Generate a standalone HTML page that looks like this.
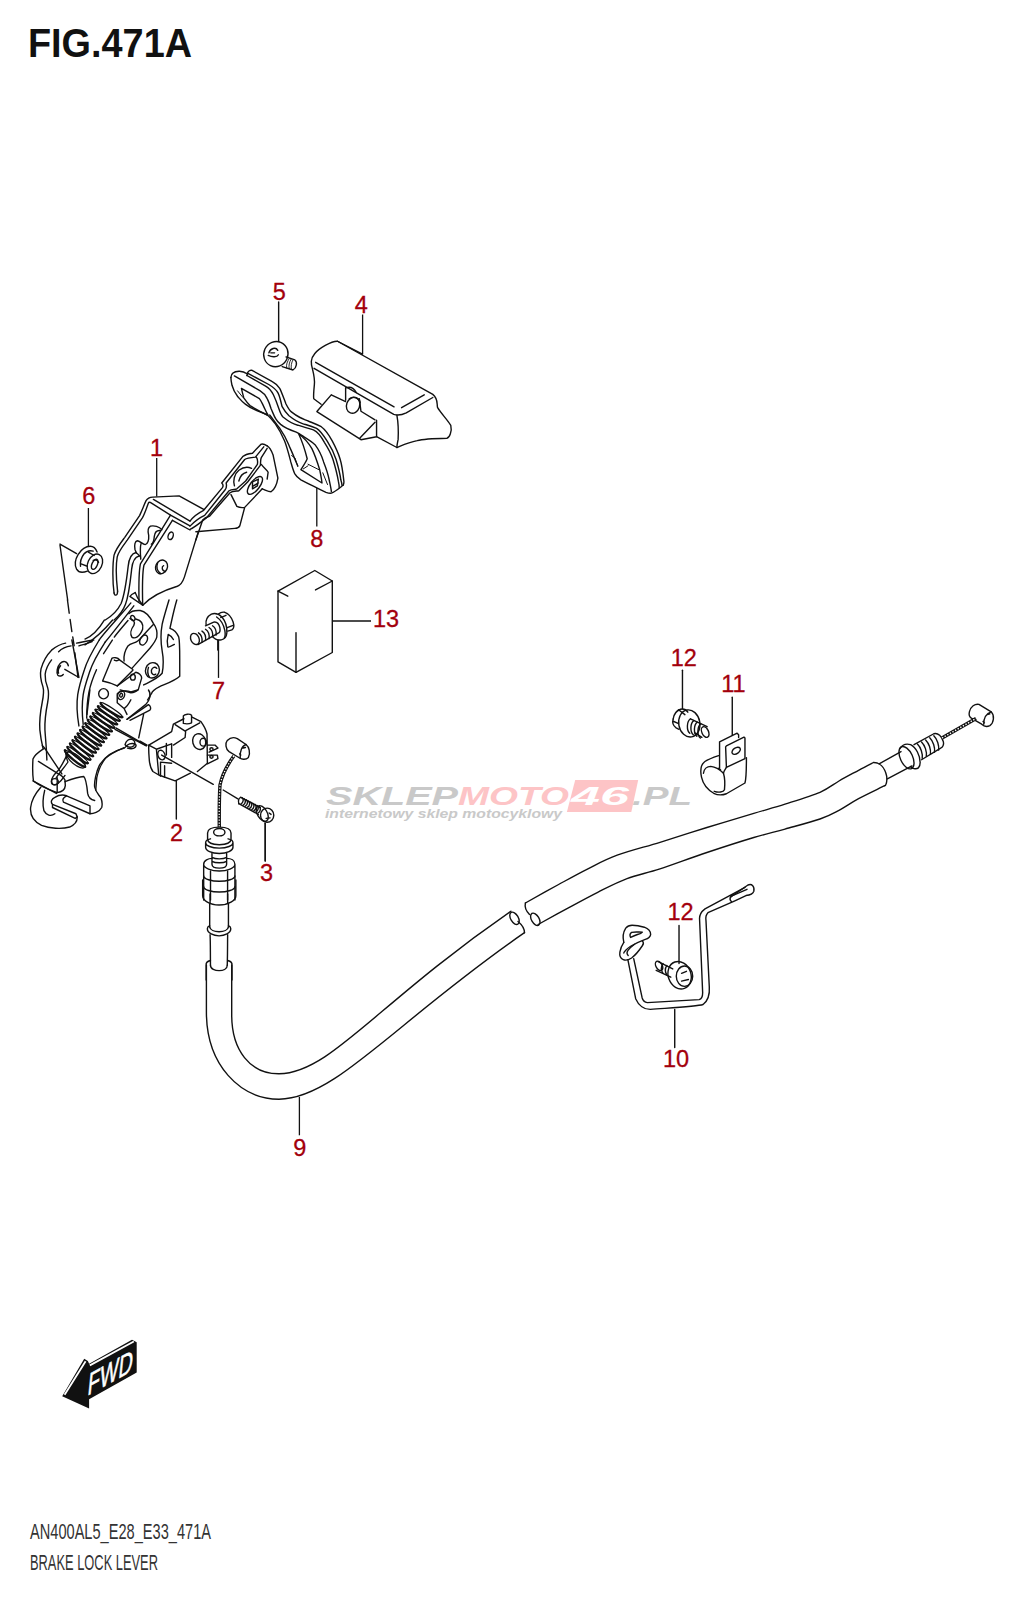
<!DOCTYPE html>
<html><head><meta charset="utf-8"><title>FIG.471A</title>
<style>
html,body{margin:0;padding:0;background:#fff;width:1024px;height:1600px;overflow:hidden}
svg{display:block}
.l path,.l ellipse,.l circle,.l polyline{fill:none;stroke:#111;stroke-width:1.4;stroke-linejoin:round;stroke-linecap:round;vector-effect:non-scaling-stroke}
.t path,.t ellipse,.t circle{fill:none;stroke:#111;stroke-width:1.0;stroke-linejoin:round;stroke-linecap:round;vector-effect:non-scaling-stroke}
.t{fill:none;stroke:#111;stroke-width:1.1;stroke-linejoin:round;stroke-linecap:round}
.ld{fill:none;stroke:#111;stroke-width:1.3}
.n{font-family:"Liberation Sans",sans-serif;font-size:23.5px;fill:#a3000c;stroke:#a3000c;stroke-width:0.3;text-anchor:middle}
</style></head>
<body>
<svg width="1024" height="1600" viewBox="0 0 1024 1600">
<rect width="1024" height="1600" fill="#fff"/>
<!-- title -->
<text x="28" y="57" font-family="Liberation Sans" font-weight="bold" font-size="40" fill="#111" textLength="164" lengthAdjust="spacingAndGlyphs">FIG.471A</text>

<!-- watermark -->
<g id="wm" font-family="Liberation Sans" font-weight="bold" font-style="italic">
<text x="326" y="805" font-size="25" fill="#c9c9c9" textLength="132" lengthAdjust="spacingAndGlyphs">SKLEP</text>
<text x="458" y="805" font-size="25" fill="#fdc4c6" textLength="111" lengthAdjust="spacingAndGlyphs">MOTO</text>
<path d="M575.2 780.1H638.2L631.3 812H566.9Z" fill="#fdc4c6"/>
<text x="571" y="805" font-size="25" fill="#fff" textLength="58" lengthAdjust="spacingAndGlyphs">46</text>
<text x="632" y="805" font-size="25" fill="#c9c9c9" textLength="60" lengthAdjust="spacingAndGlyphs">.PL</text>
<text x="325" y="818.2" font-size="12.3" fill="#c9c9c9" textLength="237" lengthAdjust="spacingAndGlyphs">internetowy sklep motocyklowy</text>
</g>

<!-- part 4 -->
<g class="l" transform="translate(300 330) scale(0.15625)">
<path d="M400 155L240 72C200 70 120 120 95 150C65 185 70 215 80 250C90 290 95 320 92 350C88 390 85 420 88 440L135 475"/>
<path d="M240 72L850 412C885 440 875 470 880 495C900 530 940 570 965 610C975 650 955 690 940 693C850 695 780 700 750 708C690 720 650 740 620 752L490 683"/>
<path d="M90 245L600 540C625 548 650 545 680 530L850 432"/>
<path d="M100 207L602 492M650 497L795 415"/>
<path d="M620 545C630 600 630 660 628 700C625 720 620 735 620 752"/>
<path d="M200 415L292 458M200 415L108 522L390 702L490 683M385 690L480 590M490 578V683"/>
<path d="M292 370V450M292 370C320 360 345 370 360 400M380 440L390 520L480 575"/>
<ellipse cx="340" cy="482" rx="42" ry="52" transform="rotate(20 340 482)"/>
<path d="M315 440C345 420 380 435 385 465"/>
</g>
<!-- part 5 -->
<g class="l" transform="translate(220 330) scale(0.12695)">
<path d="M462 -220V90"/>
<ellipse cx="440" cy="190" rx="95" ry="100" transform="rotate(25 440 190)"/>
<path d="M520 212L590 236C610 250 605 300 575 315L490 288"/>
<path d="M385 180C395 145 440 130 455 160M380 200C410 215 450 215 460 195M400 180L430 180" class="t"/>
<path d="M545 225C530 250 520 270 525 300M560 230C545 255 540 280 545 305M575 235C562 258 558 282 562 310" style="stroke-width:0.9"/>
</g>
<!-- part 8 -->
<g class="l">
<path d="M230.9 377.5C231 374 234 371.5 239 371.3C242 371.2 245 372.3 247.5 374M234.4 375.9L260.2 390.8C264 393 266 396 267.2 398.6C269 402 270 405 271.1 408.75C273 413 274 416 275.8 418.9C277 421 279 423 280.6 424.4C285 428 290 430 296.25 432.2C299 433.5 301 435 304 436.9C309 440 312 442 315 444.7C319 450 321.5 455 323.6 461.9C326 468 328 474 329 479C330 484 331 488 331.4 491.6"/>
<path d="M230.9 377.5C231 381 231.5 383 232 385.3C233 389 235 393 237.5 396.25C240 399 242 402 245.3 404.1C249 407 252 408.5 256.25 410.3C260 412 264 413 267.2 415C270 417 273 421 275.2 423.6C279 429 282 435 284.5 440.8C287 447 289 455 290.8 461.9C292 466 293 470 294.7 473.6C296 476 298 478 300.9 479.8C305 482 309 484 313.4 486.1C317 488 321 490 326 492.3C328 493 330 493.5 331.4 493.1C335 492 339 488.5 343.1 485.3"/>
<path d="M269.7 415C273 419 276 424 279.8 428.3C283 433 286 438 288.4 443.9C290 448 292.5 453 294.7 458.75C296 462 297 464 297.8 465.8"/>
<path d="M246.9 375.5L265.6 386.1C269 388 271 390 273.4 394.7C275 398 277 403 278.9 408.75C280 412 282 416 283 417C288 421 292 424 297.8 425.2C303 427 308 428 313.4 429.8C318 432 321 436 324.4 442.3C328 448 331 453 333 459.5C335 466 337 473 338.4 481.4C339 484 339.2 486 339.2 487.7"/>
<path d="M248.4 373.6L268.75 384.5C273 387 276 389 278.1 393.1C280 397 281 402 282 406.4C284 410 286 413 289 415.8C293 419 297 422 302.5 423.6C307 425 311 426 316.6 428.3C321 431 324 436 327.5 441.6C331 447 334 453 336.1 459.5C338 466 340 473 340.8 479.8C341.5 482 342 484 342 485.3"/>
<path d="M247 373.5C248 371.5 249.5 370.2 251.6 370.1L271.9 381.4C275 383 278 386 279.7 388.4C282 393 284 399 286 404C287.5 407 289 410 291.4 411.9C294 414 297 416 300 417.5C303 419 306 420 308.75 421.25C313 423 317 424.5 321.25 426.7C326 430 329 435 332.2 440.8C335 446 338 452 340 458.75C342 465 343 473 343.9 481.4C344 483 343.5 484.5 343.1 485.3"/>
<path d="M247.5 374L246.9 375.5"/>
<path d="M241.4 388.4L259.4 398.6C261 400.5 262 403 263.3 405.6C265 409 266 412 268 415M241.4 388.4C242 391 243 395 243.75 397.8C246 401 248 403.5 250 405.6C255 409 261 412 267.2 415"/>
<path d="M298.6 433.75C302 441 305 450 307.2 458.75C306 462 303 466 300.9 469.7L322 483C321.5 478 320.5 474 319.7 469.7C317 461 314.5 454 311.9 448.6C308 442 303 437 298.6 433.75Z"/>
<path d="M308 464.2L318.9 469.7M303.3 468.9L308 465.8M291.6 455.6L295 458L297.8 466.6M322.8 472.8L327.5 484.5M237.5 390.8L243 397.5" class="t" style="stroke-width:1"/>
</g>
<!-- part 1 upper -->
<g class="l" transform="translate(100 440) scale(0.17578)">
<path d="M80 870C70 800 72 700 80 655C90 620 110 595 140 555L225 430C240 400 250 370 262 345C270 332 282 326 300 325L450 318L590 395"/>
<path d="M100 860C92 790 92 700 98 665C105 635 125 610 155 570L240 445C255 420 265 385 275 360C278 352 282 354 286 355L401 427L512 488"/>
<path d="M304 338L512 461M412 457L512 512"/>




<path d="M80 870C82 888 100 888 100 860"/>
<path d="M401 427L230 705C222 740 220 820 222 920M412 457L250 712C243 745 240 830 243 940"/>
<path d="M560 520L480 780C470 810 460 825 440 832C380 850 300 880 243 940L170 890C175 880 185 875 200 868"/>
<path d="M200 868L215 900M215 900L243 940"/>
<ellipse cx="402" cy="545" rx="14" ry="22" transform="rotate(20 402 545)"/>
<ellipse cx="350" cy="722" rx="33" ry="40" transform="rotate(25 350 722)"/>
<path d="M362 715C350 720 350 745 372 748M328 698C320 720 325 745 345 760" class="t"/>
<path d="M352 510C337 492 307 485 287 490C272 498 272 523 277 543C279 568 272 593 257 595C242 595 227 573 212 573C199 575 194 598 199 623L207 643"/>
<path d="M344 515C327 513 312 523 309 548C307 573 302 588 292 593M234 588C227 608 229 643 232 678"/>
<path d="M205 640C180 645 165 670 160 720C152 790 140 880 120 930C100 970 70 1000 30 1024M222 660C200 665 185 690 180 735C173 800 165 880 145 935C130 975 110 1000 80 1024"/>
<path d="M205 640C215 648 222 655 230 665"/>




</g>
<g class="l" transform="translate(190 440) scale(0.097656)">
<path d="M0 830C30 790 80 750 140 720L330 490C345 470 335 450 325 440L540 170C560 150 600 140 640 135L725 45C740 35 760 40 790 60"/>
<path d="M0 882C40 840 100 795 150 772L360 510C375 490 375 460 370 440L560 200C580 185 620 180 670 175L755 70"/>
<path d="M0 915C40 900 90 860 170 795L400 520C430 500 460 510 480 500L570 420L690 250C695 220 690 190 680 175"/>
<path d="M60 1024L130 820C160 790 190 785 200 780L410 540C440 520 480 525 500 520L590 430L720 260C725 230 720 200 730 180L790 85"/>
<path d="M790 60C810 70 830 100 850 150L900 390C890 450 860 510 830 530C800 530 770 510 740 500"/>
<path d="M730 250C760 290 790 310 800 330L790 400"/>
<path d="M420 560L480 680C500 690 530 695 560 690L510 880C500 900 480 905 460 905L60 940M560 690L740 500"/>
<path d="M455 470C440 420 450 350 500 310C540 280 590 270 630 290M500 420C510 380 540 340 580 330"/>
<ellipse cx="665" cy="465" rx="48" ry="110" transform="rotate(38 665 465)"/>
<path d="M640 430L700 400L690 470L640 500ZM650 470L700 440" class="t"/>
</g>
<!-- part 1 lower -->
<g class="l" transform="translate(25 640) scale(0.078125)">
<path d="M520 40C460 50 400 80 340 130C280 190 230 280 205 370C190 440 195 500 230 600C245 650 240 700 220 800C200 900 180 1000 190 1150C200 1250 215 1320 230 1385"/>
<path d="M590 75C520 85 470 110 430 150M340 255C290 320 265 380 258 440C255 500 270 560 290 610C305 660 305 720 290 800C270 900 250 1000 255 1150C260 1250 275 1350 280 1536"/>
<path d="M555 330C540 270 490 260 450 300C410 340 400 420 420 450C440 470 480 460 490 440M455 330C430 360 420 400 430 425"/>
<path d="M600 0L690 480L510 375"/>
<path d="M950 0C870 130 800 250 760 380C720 500 690 600 675 700C660 800 665 950 690 1100"/>
<path d="M1024 30C940 160 870 280 830 400C790 520 760 600 745 700C730 800 730 950 745 1080"/>
<path d="M915 380C870 480 840 560 820 660C800 760 790 850 790 1000"/>
<path d="M660 40C700 30 760 20 880 0M690 75C740 60 800 40 860 20"/>
</g>
<g class="l" transform="translate(20 600) scale(0.17578)">
<path d="M270 0L280 75M285 110L295 180M300 210L308 260M312 300L330 440" />
</g>
<g class="l" transform="translate(85 600) scale(0.097656)">
<path d="M198 205C140 300 70 370 0 400"/>
<path d="M283 205C220 280 130 380 0 460"/>
<path d="M470 30C380 140 200 330 145 410"/>
<path d="M500 60C430 150 290 330 205 433"/>
<path d="M440 210C380 280 320 350 300 380M280 410L190 550"/>
<path d="M450 140C470 115 520 105 565 108C610 115 660 160 700 240C730 280 745 320 735 380C725 420 700 450 660 500L480 700"/>
<path d="M400 625C395 580 400 530 440 470C470 440 510 445 540 420C570 400 600 350 700 250"/>
<path d="M460 190C490 200 520 220 500 260C470 300 460 350 480 380C510 400 560 380 590 300C600 250 580 210 520 195"/>
<ellipse cx="490" cy="185" rx="20" ry="28" transform="rotate(-30 490 185)"/>
<ellipse cx="600" cy="410" rx="35" ry="55" transform="rotate(30 600 410)"/>
<path d="M860 0C830 100 800 200 790 250C775 330 770 400 790 520C805 600 800 700 790 750C750 800 680 830 600 870"/>
<path d="M940 0C910 100 890 200 870 290C900 300 940 330 960 380C970 420 970 500 970 600V780C930 820 850 850 760 890C720 910 690 930 680 960L640 1024"/>
<path d="M915 455C880 475 855 490 848 480C840 440 840 400 852 352C875 362 895 385 905 405"/>
<ellipse cx="690" cy="720" rx="70" ry="80" transform="rotate(20 690 720)"/>
<path d="M735 700C720 680 690 685 680 720C675 750 700 775 725 760M650 690C640 720 640 760 660 790" class="t"/>
<path d="M275 598C290 585 340 590 350 610L490 712M275 598L180 830C230 840 290 860 330 880L490 720"/>
<path d="M330 880L520 740C550 745 580 770 580 800L545 920C525 940 495 950 470 950L360 920"/>
<path d="M350 610C340 620 320 625 300 615"/>
<ellipse cx="490" cy="790" rx="25" ry="30"/>
<ellipse cx="190" cy="960" rx="50" ry="52"/>
<ellipse cx="370" cy="975" rx="35" ry="45" transform="rotate(20 370 975)"/>
<ellipse cx="370" cy="975" rx="14" ry="20" transform="rotate(20 370 975)"/>
</g>
<g class="l" transform="translate(85 690) scale(0.097656)">
<path d="M430 300L650 150C670 160 680 190 665 205L460 310"/>
<path d="M600 250L550 490"/>
<path d="M320 390L630 570"/>
<path d="M410 560C420 520 450 500 480 505C510 515 520 540 500 570C480 590 440 595 410 560"/>
<path d="M400 590C330 620 260 650 210 700C160 760 130 850 120 900L110 1024"/>
<path d="M50 0L20 250"/>
<path d="M330 40C350 10 420 0 470 20L540 0M330 40V130L400 190C430 170 460 120 470 100M400 190L430 250"/>
<path d="M520 740C600 680 680 620 700 0" style="display:none"/>
<path d="M650 0C680 40 670 100 620 150L430 300"/>
</g>
<!-- spring -->
<g class="l"><path d="M64.9 750.3C63.3 752.4 83.5 768.8 85.1 766.7 M67.4 746.9C65.9 749.0 86.2 765.2 87.8 763.1 M70.0 743.5C68.4 745.6 88.9 761.7 90.4 759.6 M72.5 740.2C71.0 742.2 91.5 758.1 93.1 756.1 M75.1 736.8C73.5 738.8 94.2 754.6 95.8 752.5 M77.6 733.4C76.1 735.5 96.9 751.1 98.4 749.0 M80.2 730.0C78.6 732.1 99.5 747.5 101.1 745.4 M82.7 726.6C81.2 728.7 102.2 744.0 103.8 741.9 M85.3 723.2C83.7 725.3 104.9 740.4 106.4 738.3 M87.8 719.8C86.3 721.9 107.5 736.9 109.1 734.8 M90.4 716.5C88.8 718.5 110.2 733.3 111.8 731.3 M92.9 713.1C91.4 715.1 112.9 729.8 114.4 727.7 M95.5 709.7C93.9 711.8 115.5 726.2 117.1 724.2 M98.0 706.3C96.5 708.4 118.2 722.7 119.7 720.6 M100.6 702.9C99.0 705.0 120.8 719.2 122.4 717.1" style="stroke-width:2.4"/><path d="M64.9 750.3C66.5 748.2 86.7 764.6 85.1 766.7 M67.4 746.9C69.0 744.9 89.3 761.1 87.8 763.1 M70.0 743.5C71.6 741.5 92.0 757.5 90.4 759.6 M72.5 740.2C74.1 738.1 94.7 754.0 93.1 756.1 M75.1 736.8C76.6 734.7 97.3 750.4 95.8 752.5 M77.6 733.4C79.2 731.3 100.0 746.9 98.4 749.0 M80.2 730.0C81.7 727.9 102.7 743.4 101.1 745.4 M82.7 726.6C84.3 724.5 105.3 739.8 103.8 741.9 M85.3 723.2C86.8 721.1 108.0 736.3 106.4 738.3 M87.8 719.8C89.4 717.8 110.7 732.7 109.1 734.8 M90.4 716.5C91.9 714.4 113.3 729.2 111.8 731.3 M92.9 713.1C94.5 711.0 116.0 725.6 114.4 727.7 M95.5 709.7C97.1 707.6 118.6 722.1 117.1 724.2 M98.0 706.3C99.6 704.2 121.3 718.5 119.7 720.6 M100.6 702.9C102.2 700.8 124.0 715.0 122.4 717.1" style="stroke-width:1.3"/><ellipse cx="76.0" cy="760.0" rx="11.5" ry="4.5" transform="rotate(39 76.0 760.0)" style="stroke-width:1.2"/><path d="M65.5 752C66 756 67 760 68 762C64 768 60 772 56 778" style="stroke-width:1.3"/></g>
<!-- bottom hook -->
<g class="l" transform="translate(15 720) scale(0.15625)">
<path d="M175 165C182 170 186 175 190 180C160 200 130 215 115 250C112 300 112 350 118 390C150 415 200 440 270 465C300 460 320 445 322 420L320 385C310 365 290 350 270 340L150 265M190 180L300 345"/>
<path d="M115 390L265 470M270 370V465"/>
<path d="M165 430C130 470 105 510 100 560C95 610 120 650 170 675C220 695 300 700 350 685C385 670 400 650 398 620L390 600L240 540C225 525 235 505 255 495C280 480 310 478 330 485L480 550V600C500 600 540 590 555 560C560 540 558 520 550 500C540 480 520 470 510 430C505 400 520 330 540 290C570 240 620 200 700 180L720 160C740 145 770 150 775 160C775 180 750 190 720 180"/>
<path d="M190 450C180 490 175 540 185 580C200 610 230 620 255 600"/>
<path d="M240 540L240 560L385 630L398 620M330 485C310 495 300 510 310 525L480 600"/>
<path d="M320 395C360 380 400 365 440 362C455 375 460 420 465 470C470 500 485 510 510 515"/>
<path d="M330 230C310 270 290 310 270 330C240 360 225 390 240 410C260 425 290 400 320 355"/>
<ellipse cx="255" cy="395" rx="22" ry="20"/>
<path d="M640 60L840 165"/>
</g>
<!-- nut 6 -->
<g class="l" transform="translate(60 535) scale(0.048828)">
<path d="M0 185L340 380M0 210L157 1331"/>
<path d="M760 350C730 270 680 230 620 230C540 230 440 290 370 400C310 500 300 620 340 700C380 770 460 780 560 740"/>
<path d="M420 640C410 560 430 470 490 390C540 330 610 310 680 330"/>
<path d="M580 350L700 420M430 590L560 640"/>
<ellipse cx="715" cy="590" rx="145" ry="210" transform="rotate(25 715 590)"/>
<ellipse cx="710" cy="600" rx="55" ry="110" transform="rotate(25 710 600)"/>
<path d="M680 520C720 500 770 520 790 560" class="t"/>
</g>
<!-- bolt 7 -->
<g class="l" transform="translate(185 600) scale(0.058582)">
<path d="M570 240C600 215 640 200 680 210C740 230 790 290 820 370C840 430 830 490 800 510L730 530"/>
<path d="M610 300L700 262M720 470L822 432"/>
<path d="M360 420C350 350 380 280 450 240C520 215 580 240 630 290C690 360 720 450 715 560C710 620 680 670 620 680C560 690 500 660 470 620"/>
<path d="M540 290C600 330 660 420 680 520C690 580 690 620 670 650" class="t"/>
<path d="M350 440L490 378C540 370 580 410 595 470C605 520 590 560 560 570L220 760"/>
<ellipse cx="170" cy="665" rx="70" ry="100" transform="rotate(-25 170 665)"/>
<path d="M230 560C275 590 300 650 290 720M290 530C335 560 360 620 350 690M350 500C395 530 420 590 410 660M410 470C455 500 480 560 470 630M470 440C515 470 540 530 530 600"/>
<path d="M560 680V853"/>
</g>
<!-- box 13 -->
<g class="l">
<path d="M278 591.1L314.8 570.5L332.3 581V652.5L296 672.4L278 661.9Z"/>
<path d="M278 591.1L287.8 596.2M332.3 581L315.5 589.9M296 632.6V672.4"/>
</g>
<!-- part 2 switch -->
<g class="l" transform="translate(140 700) scale(0.117188)">
<path d="M0 350L60 385"/>
<path d="M75 385L270 270L285 205L375 160M440 145L520 185C545 220 565 260 572 290L575 540L490 610"/>
<path d="M370 200V135C380 120 425 115 440 130V195C420 205 390 205 370 200Z"/>
<path d="M300 210L385 265M510 195L390 262L385 320L285 385"/>
<path d="M75 385L140 420L270 375M140 420L160 640M75 385C72 440 78 490 80 520C85 560 95 590 110 610L160 640L300 690L430 625"/>
<path d="M225 370V470M270 375V490M175 530L270 540M175 530V650M210 560V660"/>
<ellipse cx="505" cy="355" rx="55" ry="68" transform="rotate(-15 505 355)"/>
<ellipse cx="540" cy="360" rx="28" ry="34"/>
<path d="M575 385L640 385L665 410L590 445M575 470L660 470L665 500L575 545"/>
<ellipse cx="610" cy="420" rx="14" ry="12"/><ellipse cx="610" cy="485" rx="14" ry="12"/>
<ellipse cx="183" cy="470" rx="30" ry="42" transform="rotate(-20 183 470)"/>
<path d="M185 470L625 720"/>
<path d="M310 690V1015"/>
<path d="M745 345C770 320 800 315 830 330L905 380C930 400 945 450 925 490C905 510 870 510 850 495L760 440C730 420 725 370 745 345Z"/>
<path d="M905 380C870 390 850 440 855 495M880 410L900 405M850 460L860 470" class="t"/>
</g>
<g>
<path d="M233.8 756C228 764 222 775 220 785C219 800 219.2 815 219.3 827" fill="none" stroke="#111" stroke-width="3.4"/>
<path d="M233.8 756C228 764 222 775 220 785C219 800 219.2 815 219.3 827" fill="none" stroke="#fff" stroke-width="1.3" stroke-dasharray="1.3 1.6"/>
</g>
<!-- screw 3 + fitting -->
<g class="l" transform="translate(190 790) scale(0.097656)">
<path d="M340 0L490 90"/>
<path d="M520 75L720 180M500 140L700 250"/>
<path d="M520 75C500 80 490 110 500 140"/>
<path d="M533 78C553 95 545 130 523 142M555 90C575 106 567 142 545 154M577 101C597 118 589 153 567 165M599 112C619 130 611 164 589 176M621 124C641 141 633 176 611 188M643 136C663 152 655 188 633 200M665 147C685 164 677 199 655 211M687 158C707 176 699 210 677 222M709 170C729 187 721 222 699 234" class="t"/>
<ellipse cx="740" cy="240" rx="50" ry="88" transform="rotate(-30 740 240)"/>
<ellipse cx="790" cy="258" rx="68" ry="72"/>
<path d="M810 235L830 250M780 290L820 285" class="t"/>
<path d="M770 340V730"/>
<ellipse cx="300" cy="432" rx="58" ry="38"/>
<path d="M180 440C180 400 230 380 300 380C370 380 420 400 420 440V500C420 540 370 560 300 560C230 560 180 540 180 500Z"/>
<path d="M160 540C160 520 180 505 210 500M440 540C440 520 420 505 390 500M160 540V585C160 620 220 650 300 650C380 650 440 620 440 585V540C440 570 380 595 300 595C220 595 160 570 160 540"/>
<path d="M225 650V760C225 790 260 800 300 800C340 800 375 790 375 760V650M225 690C260 710 340 710 375 690M225 730C260 750 340 750 375 730"/>
<path d="M140 760C140 720 190 700 225 700M375 700C420 700 460 720 460 760V1126M140 760V1126M140 760C140 800 220 830 300 830C380 830 460 800 460 760"/>
<path d="M140 880C140 910 220 935 300 935C380 935 460 910 460 880M140 990C140 1020 220 1045 300 1045C380 1045 460 1020 460 990"/>
<path d="M210 830V1126M385 830V1126"/>
</g>
<!-- cable tube bottom -->
<g class="l" transform="translate(180 880) scale(0.078125)">
<path d="M290 200C290 260 380 320 500 320C620 320 715 260 715 200V0M290 200V0"/>
<path d="M385 180V300M610 180V300"/>
<path d="M380 300V600M620 300V600"/>
<path d="M380 585C360 592 350 605 350 625C350 680 430 715 500 715C570 715 650 680 650 625C650 605 640 592 620 585M380 600C385 640 440 662 500 662C560 662 615 640 620 600"/>
<path d="M385 700C390 800 388 900 390 1090M610 700C608 800 610 900 605 1090"/>
<path d="M390 1090C390 1140 450 1160 500 1160C550 1160 605 1140 605 1090"/>
<path d="M390 1030C350 1040 330 1060 335 1090V1280M610 1030C650 1040 670 1060 665 1090V1280"/>
</g>
<!-- cable casing -->
<g class="l">
<path d="M206.4 965V1012C206.4 1065 240 1099 279 1099.2C335 1099 395 1022 524.5 932.7"/>
<path d="M231.7 965V1015C231.7 1050 250 1074 279 1073.8C330 1073 375 1005 510.9 911.25"/>

<ellipse cx="514.5" cy="918.3" rx="3.8" ry="6.8" transform="rotate(-30 514.5 918.3)"/>
<path d="M518 921.5C521 924 524.5 926.5 524.5 932.7"/>
<path d="M525.4 903C524.5 907 526 911 529.5 914.5"/>
<ellipse cx="535.3" cy="919.3" rx="3.8" ry="6.8" transform="rotate(-30 535.3 919.3)"/>
<path d="M525.4 903.0 C530.9 899.9 548.2 890.2 558.6 884.5 C569.0 878.8 578.1 873.7 587.9 868.8 C597.7 863.9 605.2 859.6 617.2 855.2 C629.2 850.8 645.0 846.9 660.0 842.3 C675.0 837.7 691.3 832.3 706.9 827.5 C722.5 822.7 740.7 817.3 753.8 813.4 C766.8 809.5 774.0 807.6 785.0 804.1 C796.0 800.6 811.0 796.1 820.0 792.3 C829.0 788.4 832.6 784.7 839.0 781.0 C845.4 777.3 852.9 773.4 858.6 770.3 C864.4 767.2 871.0 763.8 873.5 762.5"/>
<path d="M538.1 924.5 C543.1 921.7 558.5 913.3 568.4 907.9 C578.3 902.5 587.9 897.2 597.7 892.3 C607.5 887.4 616.6 882.5 627.0 878.6 C637.4 874.7 646.7 873.2 660.0 868.9 C673.3 864.5 691.3 857.7 706.9 852.5 C722.5 847.3 740.7 841.4 753.8 837.5 C766.8 833.6 774.0 832.2 785.0 829.1 C796.0 826.0 811.0 822.1 820.0 819.0 C829.0 815.9 832.6 813.7 839.0 810.3 C845.4 806.9 851.0 802.7 858.6 798.6 C866.2 794.5 880.3 787.9 884.6 785.7"/>
</g>
<!-- cable end -->
<g class="l" transform="translate(860 690) scale(0.136719)">
<path d="M100 530C140 530 180 560 195 630C200 670 190 700 180 700"/>
<path d="M140 540L300 450M200 650L380 555"/>
<path d="M290 430C310 400 340 390 370 400C410 420 440 480 440 530C440 570 420 580 395 575C375 570 370 560 370 560"/>
<ellipse cx="340" cy="495" rx="45" ry="88" transform="rotate(-25 340 495)"/>
<path d="M395 400L540 320C570 310 600 340 610 380C615 400 605 420 590 425L450 510"/>
<path d="M420 395C445 420 460 465 455 500M450 380C475 405 490 450 485 485M480 365C505 390 520 435 515 470M510 350C535 375 550 420 545 455M540 335C565 360 580 405 575 440" class="t"/>


<path d="M800 160C810 120 840 100 870 105L960 160C985 185 980 240 950 260C930 270 905 265 890 250L820 210C800 200 795 180 800 160Z"/>
<path d="M960 160C930 170 905 200 905 250M930 180L950 175M900 230L910 240" class="t"/>
</g>
<!-- bolt 12 top + clamp 11 -->
<g class="l" transform="translate(660 700) scale(0.097656)">
<path d="M135 195C140 150 170 110 210 95C240 88 265 95 285 125"/>
<path d="M135 195C125 230 135 265 165 285L195 300M190 100L255 150M130 215L185 240"/>
<ellipse cx="300" cy="240" rx="108" ry="140" transform="rotate(-10 300 240)"/>
<path d="M312 193L483 273M357 337L429 382"/><ellipse cx="463" cy="328" rx="34" ry="58" transform="rotate(-25 463 328)"/>
<path d="M310 195C273 220 270 310 305 340M346 211C309 236 306 326 341 356M382 227C345 252 342 342 377 372M418 244C381 269 378 359 413 389"/>
<path d="M230 -305V90"/>
<path d="M740 -28V360"/>
<path d="M610 430L790 340L805 355V385M610 430V700"/>
<path d="M680 470L860 380L870 390V600L680 690L672 480Z"/>
<ellipse cx="780" cy="520" rx="48" ry="30" transform="rotate(-35 780 520)"/>
<path d="M600 570C540 590 490 610 460 630C420 660 410 720 425 790C440 860 490 920 550 955C590 975 640 975 680 960L870 850C885 800 885 700 885 590"/>
<path d="M445 750C450 710 480 680 520 680C570 685 620 720 650 750C665 800 665 870 660 920C650 945 600 950 555 935"/>
<path d="M680 690C670 710 655 720 650 750M600 700L620 715" class="t"/>
</g>
<!-- bracket 10 + bolt 12 bottom -->
<g class="l" transform="translate(580 860) scale(0.195313)">
<path d="M770 190L860 128C880 120 895 135 890 160C885 175 870 180 850 182L790 210L655 270C645 280 642 290 645 310L662 650C665 690 655 720 630 740C600 750 500 755 360 765C330 765 300 745 285 710L245 510"/>
<path d="M855 150L775 185C765 195 768 205 775 212M845 140L640 250C620 265 612 280 612 300L628 680C628 700 622 712 610 715L345 730C330 728 322 720 318 705L275 505"/>


<ellipse cx="510" cy="590" rx="58" ry="72" transform="rotate(-20 510 590)"/>
<ellipse cx="535" cy="595" rx="42" ry="52"/>
<path d="M520 580L545 570M520 620L555 612" class="t"/>
<path d="M400 520L475 558M390 565L465 600"/>
<ellipse cx="405" cy="542" rx="16" ry="26" transform="rotate(-30 405 542)"/>
<path d="M425 530C415 545 415 565 425 580M445 540C435 555 435 575 445 590" class="t"/>
<path d="M507 335V530M485 765V960"/>
</g>
<g class="l" transform="translate(615 915) scale(0.048828)">
<path d="M180 560C160 480 150 380 220 270C260 220 300 210 350 210C420 210 500 220 600 250C680 280 730 330 730 400C720 450 680 480 620 500C540 530 420 580 320 640C240 690 180 760 180 780"/>
<path d="M180 560C140 620 110 690 100 760C90 830 110 890 170 915C220 935 280 920 340 880C420 820 500 720 560 630C590 590 580 550 560 530"/>
<path d="M320 460C300 420 305 380 340 355C400 340 480 350 560 350C540 380 500 390 460 400C400 420 360 440 320 460"/>
<path d="M270 830C240 800 240 760 270 720C310 670 360 630 400 600"/>
</g>
<path d="M942 738L976 718.5" fill="none" stroke="#111" stroke-width="3.6"/>
<path d="M942 738L976 718.5" fill="none" stroke="#fff" stroke-width="1.4" stroke-dasharray="1.4 1.6"/>
<!-- labels -->
<g id="labels">
<text class="n" x="156.5" y="455.5">1</text>
<text class="n" x="176.5" y="841">2</text>
<text class="n" x="266.5" y="881">3</text>
<text class="n" x="361.3" y="313">4</text>
<text class="n" x="279.2" y="300">5</text>
<text class="n" x="88.7" y="504">6</text>
<text class="n" x="218.6" y="699">7</text>
<text class="n" x="316.8" y="546.6">8</text>
<text class="n" x="299.7" y="1156.4">9</text>
<text class="n" x="676" y="1066.6">10</text>
<text class="n" x="733.5" y="692.3">11</text>
<text class="n" x="683.7" y="666">12</text>
<text class="n" x="680.6" y="920.2">12</text>
<text class="n" x="386" y="627">13</text>
</g>
<!-- leaders -->
<g class="ld">
<path d="M156.7 458V496.4"/>

<path d="M265.2 823V861"/>
<path d="M362.6 314.5V354"/>

<path d="M88.4 508V546.2"/>
<path d="M218.5 640V677.9"/>
<path d="M316.8 488V526.6"/>
<path d="M299.4 1097V1135.3"/>




<path d="M332.8 621H371"/>
</g>

<!-- FWD -->
<g id="fwd">
<path d="M62.2 1396.2L84.2 1358.8L87.9 1361.1L89.1 1363.7L132 1339.8L136.7 1342.2V1372.5L89.1 1399.3V1408.6Z" fill="#111"/>
<path d="M64.6 1394.8L85.6 1361.2M89.8 1365.4L133.8 1341.5" stroke="#fff" stroke-width="1.8" fill="none"/>
<text transform="translate(87 1396) skewY(-29) skewX(-6) scale(0.66 1)" font-family="Liberation Sans" font-size="30" fill="#fff" stroke="#fff" stroke-width="0.6" textLength="68" lengthAdjust="spacingAndGlyphs">FWD</text>
</g>

<!-- footer -->
<text x="30" y="1539" font-family="Liberation Sans" font-size="22" fill="#333" textLength="181" lengthAdjust="spacingAndGlyphs">AN400AL5_E28_E33_471A</text>
<text x="30" y="1570.3" font-family="Liberation Sans" font-size="22" fill="#333" textLength="128" lengthAdjust="spacingAndGlyphs">BRAKE LOCK LEVER</text>
</svg>
</body></html>
